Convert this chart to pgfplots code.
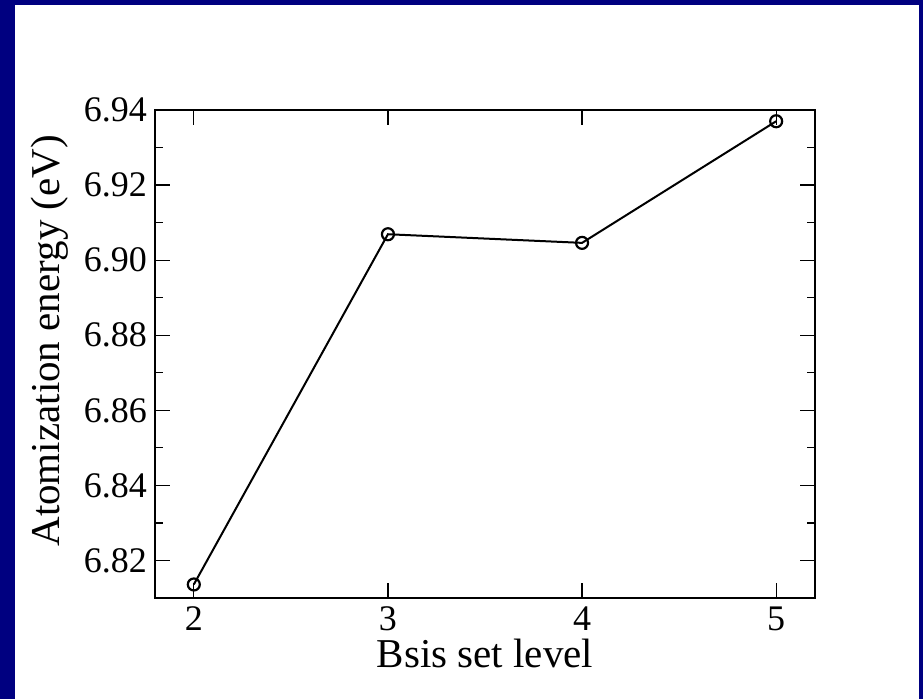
\documentclass[border=0pt]{standalone}
\usepackage{pgfplots}
\pgfplotsset{compat=1.18}
\usepackage{fontspec}
\setmainfont{Liberation Serif}
\definecolor{frame}{RGB}{0,0,128}

\begin{document}
\begin{tikzpicture}[x=0.5pt,y=0.5pt]
% page frame: navy border, white inside (1px = 0.5pt)
\fill[frame] (0,0) rectangle (923,699);
\fill[white] (15,0) rectangle (919,694);
\useasboundingbox (0,0) rectangle (923,699);
\begin{axis}[
    at={(77.5pt,50.5pt)}, anchor=south west,
    scale only axis,
    width=330pt, height=244pt,
    xmin=1.8, xmax=5.2,
    ymin=6.81, ymax=6.94,
    xtick={2,3,4,5},
    ytick={6.82,6.84,6.86,6.88,6.90,6.92,6.94},
    minor y tick num=1,
    tick align=inside,
    major tick length=7.5pt,
    minor tick length=4pt,
    every tick/.style={black, line width=0.6pt},
    axis line style={line width=0.8pt},
    /pgf/number format/.cd, fixed, fixed zerofill, precision=2,
    /pgf/number format/assume math mode=true,
    /pgfplots/.cd,
    xticklabel={\pgfmathprintnumber[precision=0]{\tick}},
    tick label style={font=\fontsize{18}{20}\selectfont},
    yticklabel style={xshift=-0.5pt},
    xticklabel style={yshift=-1pt},
    xlabel={Bsis set level},
    ylabel={Atomization energy (eV)},
    label style={font=\fontsize{20.5}{23}\selectfont},
    xlabel style={at={(axis description cs:0.5,-0.1434)}, anchor=base},
    ylabel style={at={(axis description cs:-0.159,0.527)}, anchor=center},
]
\addplot[black, line width=1pt, mark=o, mark size=3pt,
    mark options={line width=1.1pt}] coordinates {
    (2, 6.8136) (3, 6.9069) (4, 6.9046) (5, 6.9370)
};
\end{axis}
\end{tikzpicture}
\end{document}
